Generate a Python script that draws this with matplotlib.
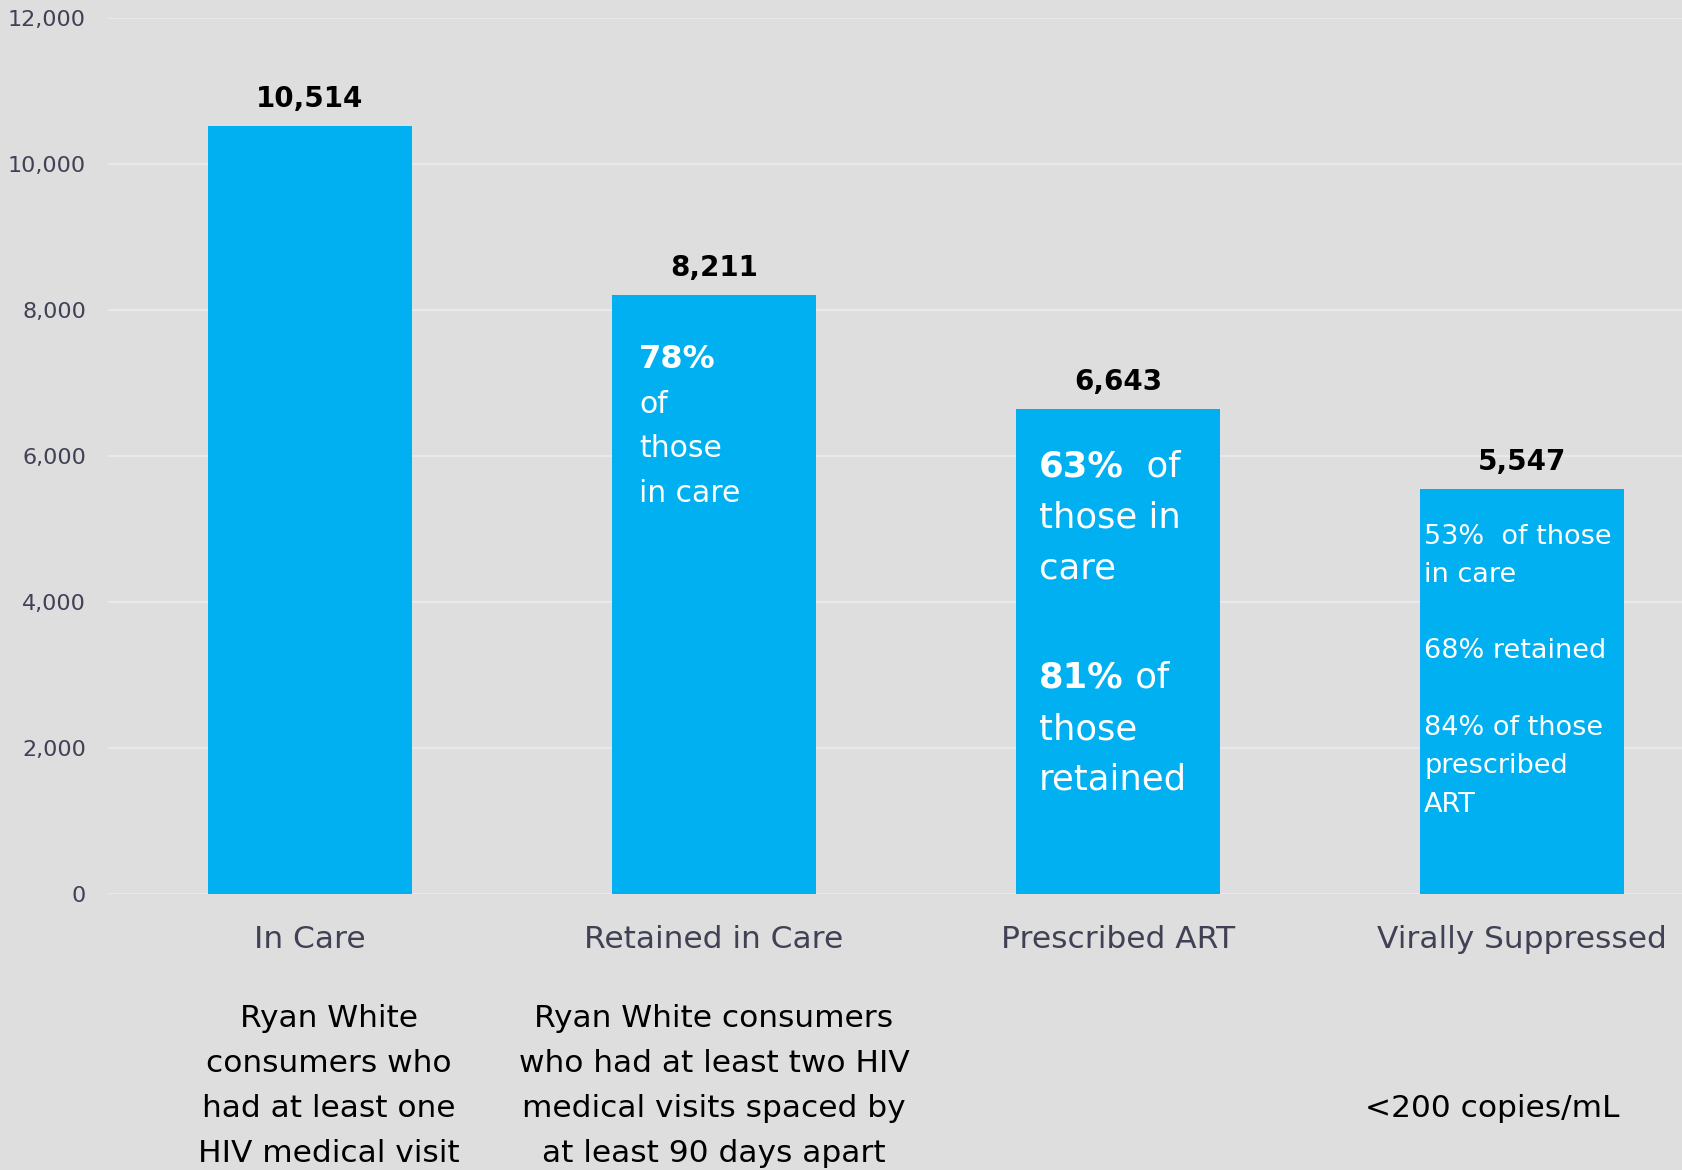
import matplotlib.pyplot as plt

# data
stages = ['In Care', 'Retained in Care', 'Prescribed ART', 'Virally Suppressed']
counts = [10514, 8211, 6643, 5547]
value_labels = ['10,514', '8,211', '6,643', '5,547']
yticks = [0, 2000, 4000, 6000, 8000, 10000, 12000]
ytick_labels = ['0', '2,000', '4,000', '6,000', '8,000', '10,000', '12,000']
notes = [
    ['Ryan White', 'consumers who', 'had at least one', 'HIV medical visit'],
    ['Ryan White consumers', 'who had at least two HIV', 'medical visits spaced by', 'at least 90 days apart'],
    [],
    ['', '', '<200 copies/mL'],
]
# text inside the bars: (bold part, regular part) per line
bar_text = [
    [],
    [('78%', ''), ('', 'of'), ('', 'those'), ('', 'in care')],
    [('63%', '  of'), ('', 'those in'), ('', 'care'), ('81%', ' of'), ('', 'those'), ('', 'retained')],
    [('', '53%  of those'), ('', 'in care'), ('', '68% retained'), ('', '84% of those'), ('', 'prescribed'), ('', 'ART')],
]

# layout (pixels at dpi 100; 1 px = 0.72 pt)
PX = 0.72
inner_dx = [0, 27, 23, 4]
inner_dy = [[], [73, 118, 162, 207], [67, 118, 169, 278, 330, 380], [55, 93, 169, 246, 284, 323]]
inner_size = [0, 21.5, 25.5, 19.5]
inner_bold_size = [0, 23, 25.5, 19.5]
note_dx = [19, 0, 0, -30]
note_dy = [133, 178, 223, 268]

BG = '#dedede'
BAR = '#00b0f0'
AXTXT = '#414156'
plt.rcParams['font.family'] = ['DejaVu Sans']

fig = plt.figure(figsize=(16.82, 11.70), dpi=100, facecolor=BG)
ax = fig.add_axes([108 / 1682, 276 / 1170, 1574 / 1682, 876 / 1170])
ax.set_facecolor(BG)

x = list(range(len(stages)))
width = 0.505
ax.bar(x, counts, width=width, color=BAR, zorder=3)

ax.set_xlim(-0.5, 3.396)
ax.set_ylim(0, 12000)
ax.set_yticks(yticks, ytick_labels)
ax.set_xticks([])
ax.tick_params(axis='y', length=0, pad=22 * PX, labelsize=16, labelcolor=AXTXT)
ax.grid(axis='y', color='#e8e8ee', linewidth=1.5, zorder=0)
for s in ax.spines.values():
    s.set_visible(False)

for i, v in enumerate(counts):
    ax.annotate(value_labels[i], xy=(i, v), xytext=(0, 19 * PX), textcoords='offset points',
                ha='center', va='baseline', fontsize=20, fontweight='bold', color='black')
    ax.annotate(stages[i], xy=(i, 0), xytext=(0, -54 * PX), textcoords='offset points',
                ha='center', va='baseline', fontsize=22.5, color=AXTXT, annotation_clip=False)
    for j, line in enumerate(notes[i]):
        if line:
            ax.annotate(line, xy=(i, 0), xytext=(note_dx[i] * PX, -note_dy[j] * PX),
                        textcoords='offset points', ha='center', va='baseline',
                        fontsize=22.5, color='black', annotation_clip=False)
    left = i - width / 2
    for j, (b, r) in enumerate(bar_text[i]):
        pos = (inner_dx[i] * PX, -inner_dy[i][j] * PX)
        if b:
            t = ax.annotate(b, xy=(left, v), xytext=pos, textcoords='offset points',
                            ha='left', va='baseline', fontsize=inner_bold_size[i],
                            fontweight='bold', color='white', zorder=4)
            if r:
                ax.annotate(r, xy=(1, 0), xycoords=t, ha='left', va='bottom',
                            fontsize=inner_bold_size[i], color='white', zorder=4)
        else:
            ax.annotate(r, xy=(left, v), xytext=pos, textcoords='offset points',
                        ha='left', va='baseline', fontsize=inner_size[i],
                        color='white', zorder=4)

fig.savefig('out.png', dpi=100, facecolor=BG)
